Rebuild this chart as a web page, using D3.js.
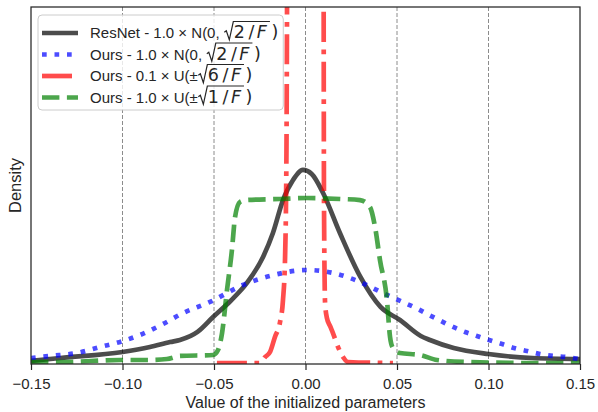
<!DOCTYPE html>
<html>
<head>
<meta charset="utf-8">
<script src="https://cdn.jsdelivr.net/npm/d3@7"></script>
<style>
  body { margin: 0; background: #fff; }
  text { font-family: "Liberation Sans", Arial, sans-serif; fill: #262626; }
</style>
</head>
<body>
<script>

// tick values along the x axis
const xTicks = [-0.15, -0.10, -0.05, 0.00, 0.05, 0.10, 0.15];
const gridTicks = [-0.10, -0.05, 0.00, 0.05, 0.10];

// density curves, [value, density]
const resnetCurve = [
  [-0.150, 0.34], [-0.134, 0.67], [-0.100, 1.34], [-0.085, 1.90], [-0.074, 2.46],
  [-0.0686, 2.69], [-0.059, 3.60], [-0.0505, 5.27], [-0.041, 7.06], [-0.032, 9.08],
  [-0.0232, 12.0], [-0.0178, 14.68], [-0.0123, 18.37], [-0.0068, 20.62], [-0.0014, 21.74],
  [0.0034, 21.29], [0.0096, 19.16], [0.0188, 14.68], [0.030, 9.75], [0.041, 6.39],
  [0.0516, 4.93], [0.063, 3.14], [0.068, 2.69], [0.081, 1.79], [0.100, 1.12],
  [0.124, 0.67], [0.150, 0.56]
];
const normalCurve = [
  [-0.150, 0.67], [-0.1396, 0.90], [-0.1249, 1.23], [-0.1123, 1.90], [-0.0997, 2.58],
  [-0.0904, 3.25], [-0.0779, 4.48], [-0.0669, 5.71], [-0.0522, 6.95], [-0.0342, 8.85],
  [-0.0194, 9.86], [0.0008, 10.53], [0.0150, 10.20], [0.0298, 9.19], [0.0423, 7.95],
  [0.0544, 6.83], [0.0615, 6.16], [0.0675, 5.49], [0.0740, 4.82], [0.0806, 4.15],
  [0.0872, 3.59], [0.0937, 3.14], [0.1003, 2.69], [0.1074, 2.24], [0.1139, 1.79],
  [0.1210, 1.46], [0.1281, 1.12], [0.1352, 0.90], [0.1424, 0.78], [0.1489, 0.56]
];
const narrowUniformCurve = [
  [-0.0484, 0.11], [-0.0249, 0.11], [-0.0221, 0.78], [-0.0194, 1.34], [-0.0167, 3.03],
  [-0.0139, 4.71], [-0.0123, 7.17], [-0.0112, 11.65], [-0.0104, 23.98], [-0.0098, 52],
  [-0.005, 80], [0.005, 80], [0.0098, 52], [0.0101, 18.37], [0.0107, 6.83],
  [0.0117, 5.15], [0.0134, 4.26], [0.0150, 3.47], [0.0178, 1.90], [0.0205, 0.78],
  [0.0232, 0.22], [0.0478, 0.11]
];
const uniformCurve = [
  [-0.150, 0.22], [-0.134, 0.22], [-0.101, 0.45], [-0.085, 0.45], [-0.0757, 0.56],
  [-0.0686, 0.90], [-0.0505, 1.01], [-0.0478, 1.57], [-0.0456, 3.47], [-0.0429, 8.29],
  [-0.0402, 12.77], [-0.0385, 16.47], [-0.0358, 18.15], [-0.0320, 18.37], [-0.0139, 18.49],
  [0.0008, 18.60], [0.0189, 18.49], [0.0298, 18.37], [0.0352, 17.59], [0.0380, 15.35],
  [0.0407, 11.65], [0.0445, 7.17], [0.0462, 3.03], [0.0478, 1.79], [0.0516, 1.23],
  [0.0626, 1.01], [0.0719, 0.45], [0.0883, 0.22], [0.1243, 0.11], [0.150, 0.11]
];

// legend texts: text before the root, and the number under the root (over F)
const legendPrefix = ["ResNet - 1.0 × N(0, ", "Ours - 1.0 × N(0, ", "Ours - 0.1 × U(±", "Ours - 1.0 × U(±"];
const legendRootNum = ["2", "2", "6", "1"];

// line styles in legend order
const series = [
  {data: resnetCurve, color: "#000000", dash: null},
  {data: normalCurve, color: "#0000ff", dash: "4.7,7.8"},
  {data: narrowUniformCurve, color: "#ff0000", dash: "30,7.5,4.7,7.5"},
  {data: uniformCurve, color: "#008000", dash: "17.4,7.5"}
];

const width = 598;
const height = 412;
const plot = {left: 31, right: 580, top: 7, bottom: 364};

const svg = d3.select("body").append("svg")
    .attr("width", width)
    .attr("height", height);

const xScale = d3.scaleLinear().domain([-0.15, 0.15]).range([plot.left, plot.right]);
const yScale = d3.scaleLinear().domain([0, 40]).range([plot.bottom, plot.top]);

svg.append("clipPath")
    .attr("id", "plotClip")
  .append("rect")
    .attr("x", plot.left)
    .attr("y", plot.top)
    .attr("width", plot.right - plot.left)
    .attr("height", plot.bottom - plot.top);

// dashed vertical grid
svg.selectAll(".grid")
    .data(gridTicks)
    .enter().append("line")
    .attr("class", "grid")
    .attr("x1", d => xScale(d))
    .attr("x2", d => xScale(d))
    .attr("y1", plot.top)
    .attr("y2", plot.bottom)
    .attr("stroke", "#8c8c8c")
    .attr("stroke-width", 1)
    .attr("stroke-dasharray", "4,2");

// the density lines
const line = d3.line()
    .x(d => xScale(d[0]))
    .y(d => yScale(d[1]))
    .curve(d3.curveMonotoneX);

svg.append("g")
    .attr("clip-path", "url(#plotClip)")
  .selectAll("path")
    .data(series)
    .enter().append("path")
    .attr("d", d => line(d.data))
    .attr("fill", "none")
    .attr("stroke", d => d.color)
    .attr("stroke-opacity", 0.7)
    .attr("stroke-width", 4.7)
    .attr("stroke-linejoin", "round")
    .attr("stroke-dasharray", d => d.dash);

// x axis with ticks
const xAxis = d3.axisBottom(xScale)
    .tickValues(xTicks)
    .tickSize(6)
    .tickFormat(d => d3.format(".2f")(d).replace("-", "\u2212"));

const axisG = svg.append("g")
    .attr("transform", "translate(0," + plot.bottom + ")")
    .call(xAxis);
axisG.select(".domain").remove();
axisG.selectAll(".tick line").attr("stroke", "#262626").attr("stroke-width", 1.2);
axisG.selectAll(".tick text")
    .attr("y", 24.7)
    .attr("dy", null)
    .style("font-family", "'Liberation Sans', Arial, sans-serif")
    .style("font-size", "15px")
    .attr("fill", "#262626");

// frame around the plot
svg.append("rect")
    .attr("x", plot.left)
    .attr("y", plot.top)
    .attr("width", plot.right - plot.left)
    .attr("height", plot.bottom - plot.top)
    .attr("fill", "none")
    .attr("stroke", "#262626")
    .attr("stroke-width", 1.25);

// axis labels
svg.append("text")
    .attr("x", (plot.left + plot.right) / 2)
    .attr("y", 408)
    .attr("text-anchor", "middle")
    .style("font-size", "16px")
    .text("Value of the initialized parameters");

svg.append("text")
    .attr("transform", "translate(21," + ((plot.top + plot.bottom) / 2) + ") rotate(-90)")
    .attr("text-anchor", "middle")
    .style("font-size", "16.5px")
    .text("Density");

// legend
const legend = svg.append("g");
const legendBox = legend.append("rect")
    .attr("x", 38)
    .attr("y", 15)
    .attr("height", 95)
    .attr("rx", 4)
    .attr("fill", "#fff")
    .attr("fill-opacity", 0.8)
    .attr("stroke", "#cccccc")
    .attr("stroke-width", 1);

const rowY = [33, 54.5, 76, 97.5];
let maxRight = 0;

// adds one piece of text and gives back its width
function addText(x, y, str, font, size, italic) {
  let t = legend.append("text")
      .attr("x", x)
      .attr("y", y)
      .style("font-family", font)
      .style("font-size", size + "px")
      .style("white-space", "pre")
      .text(str);
  if (italic) t.style("font-style", "italic");
  return t.node().getComputedTextLength();
}

const mathFont = "'DejaVu Sans', sans-serif";

legendPrefix.forEach(function (prefix, i) {
  let y = rowY[i];
  legend.append("line")
      .attr("x1", 42)
      .attr("x2", 78)
      .attr("y1", y)
      .attr("y2", y)
      .attr("stroke", series[i].color)
      .attr("stroke-opacity", 0.7)
      .attr("stroke-width", 4.7)
      .attr("stroke-dasharray", series[i].dash);

  let base = y + 5.3;
  let x = 90;
  x += addText(x, base, prefix, "'Liberation Sans', Arial, sans-serif", 15, false);

  // root sign
  let rootX = x + 0.5;
  x = rootX + 9.5;

  // number, slash and F under the root, spread like the original
  x += addText(x, base, legendRootNum[i], mathFont, 17.5, false) + 3.5;
  x += addText(x, base, "/", mathFont, 17.5, false) + 2.5;
  x += addText(x, base, "F", mathFont, 17.5, true) + 2;
  let overEnd = x + 1;
  x += 2.5;
  x += addText(x, base, ")", mathFont, 17.5, false);
  maxRight = Math.max(maxRight, x);

  let top = base - 16.8;
  legend.append("path")
      .attr("d", "M" + rootX + "," + (base - 6) +
                 " L" + (rootX + 2) + "," + (base - 7.5) +
                 " L" + (rootX + 5) + "," + (base + 1.5) +
                 " L" + (rootX + 9) + "," + top +
                 " L" + overEnd + "," + top)
      .attr("fill", "none")
      .attr("stroke", "#262626")
      .attr("stroke-width", 1.2);
});

legendBox.attr("width", maxRight + 5 - 38);

</script>
</body>
</html>
